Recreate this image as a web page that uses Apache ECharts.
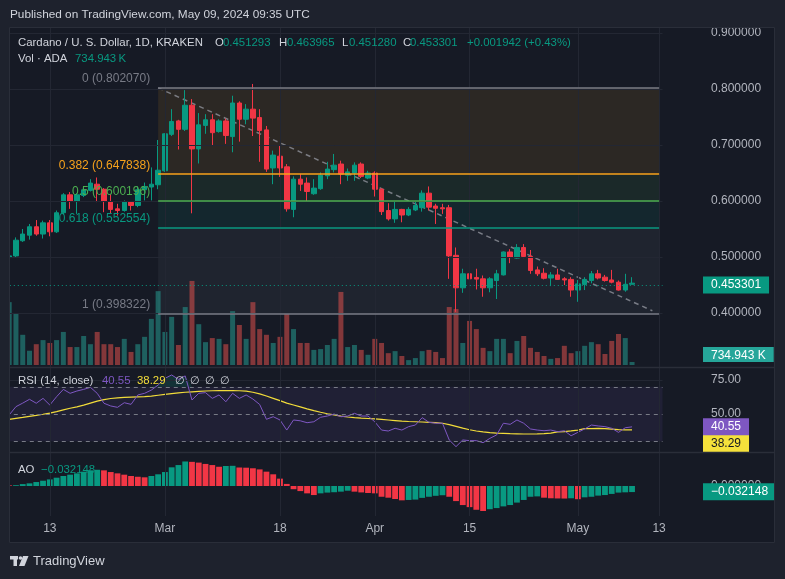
<!DOCTYPE html>
<html>
<head>
<meta charset="utf-8">
<script src="https://cdn.jsdelivr.net/npm/echarts@6/dist/echarts.min.js"></script>
<style>
html,body{margin:0;padding:0;background:#1e222d;overflow:hidden;}
#chart{width:785px;height:579px;}
</style>
</head>
<body>
<div id="chart"></div>
<script>
// ---------- DATA ----------
const dates = [
'02-07','02-08','02-09','02-10','02-11','02-12','02-13','02-14','02-15','02-16','02-17','02-18','02-19','02-20','02-21','02-22','02-23','02-24','02-25','02-26','02-27','02-28','02-29',
'03-01','03-02','03-03','03-04','03-05','03-06','03-07','03-08','03-09','03-10','03-11','03-12','03-13','03-14','03-15','03-16','03-17','03-18','03-19','03-20','03-21','03-22','03-23','03-24','03-25','03-26','03-27','03-28','03-29','03-30','03-31',
'04-01','04-02','04-03','04-04','04-05','04-06','04-07','04-08','04-09','04-10','04-11','04-12','04-13','04-14','04-15','04-16','04-17','04-18','04-19','04-20','04-21','04-22','04-23','04-24','04-25','04-26','04-27','04-28','04-29','04-30',
'05-01','05-02','05-03','05-04','05-05','05-06','05-07','05-08','05-09','05-10','05-11','05-12','05-13'];

const opens = [
0.499,0.502,0.529,0.539,0.554,0.541,0.561,0.545,0.579,0.611,0.599,0.610,0.619,0.630,0.621,0.599,0.586,0.583,0.598,0.592,0.620,0.625,0.629,
0.654,0.719,0.743,0.728,0.771,0.693,0.735,0.745,0.724,0.743,0.715,0.775,0.746,0.764,0.749,0.727,0.659,0.680,0.661,0.585,0.639,0.632,0.613,0.622,0.645,0.656,0.666,0.646,0.650,0.666,0.641,
0.650,0.621,0.583,0.568,0.585,0.575,0.584,0.588,0.614,0.591,0.588,0.588,0.503,0.445,0.470,0.4635,0.461,0.445,0.458,0.468,0.509,0.498,0.517,0.501,0.477,0.471,0.4625,0.468,0.461,0.460,
0.441,0.451,0.458,0.470,0.464,0.459,0.455,0.441,0.451293];
const highs = [
0.503,0.535,0.550,0.559,0.566,0.565,0.566,0.583,0.614,0.616,0.614,0.625,0.639,0.642,0.623,0.612,0.595,0.601,0.600,0.626,0.633,0.660,0.709,
0.721,0.764,0.745,0.798,0.782,0.757,0.755,0.755,0.746,0.747,0.788,0.778,0.773,0.809,0.764,0.734,0.690,0.699,0.666,0.644,0.648,0.642,0.639,0.651,0.670,0.684,0.672,0.658,0.669,0.669,0.654,
0.653,0.623,0.596,0.599,0.586,0.589,0.599,0.619,0.626,0.595,0.595,0.593,0.517,0.479,0.496,0.479,0.467,0.464,0.477,0.510,0.514,0.523,0.523,0.5125,0.483,0.480,0.473,0.479,0.464,0.464,
0.459,0.464,0.475,0.477,0.468,0.477,0.458,0.470,0.463965];
const lows = [
0.496,0.500,0.527,0.531,0.538,0.533,0.537,0.543,0.576,0.586,0.577,0.607,0.617,0.598,0.580,0.577,0.574,0.581,0.583,0.589,0.601,0.601,0.621,
0.652,0.716,0.692,0.725,0.578,0.667,0.720,0.699,0.722,0.702,0.687,0.706,0.737,0.716,0.670,0.652,0.630,0.643,0.581,0.571,0.618,0.600,0.611,0.620,0.639,0.651,0.630,0.636,0.636,0.641,0.639,
0.608,0.575,0.565,0.561,0.562,0.573,0.582,0.581,0.583,0.559,0.577,0.461,0.402,0.436,0.442,0.442,0.429,0.437,0.425,0.467,0.489,0.497,0.498,0.470,0.466,0.460,0.448,0.459,0.450,0.429,
0.420,0.441,0.453,0.460,0.456,0.453,0.440,0.438,0.451280];
const closes = [
0.502,0.530,0.541,0.554,0.541,0.561,0.545,0.579,0.611,0.600,0.611,0.620,0.632,0.621,0.599,0.585,0.583,0.599,0.592,0.620,0.626,0.630,0.655,
0.720,0.742,0.728,0.771,0.693,0.736,0.745,0.722,0.743,0.717,0.775,0.746,0.764,0.748,0.726,0.657,0.682,0.659,0.586,0.639,0.630,0.617,0.623,0.646,0.657,0.664,0.648,0.652,0.664,0.644,0.650,
0.621,0.581,0.568,0.585,0.575,0.585,0.592,0.614,0.589,0.587,0.586,0.502,0.445,0.470,0.461,0.4605,0.445,0.461,0.470,0.509,0.499,0.517,0.501,0.476,0.470,0.462,0.468,0.460,0.459,0.441,
0.452,0.460,0.470,0.4625,0.458,0.455,0.441,0.4513,0.453301];
// volume, millions of ADA
const volumes = [
15.4,12.5,7.4,3.5,5.1,6.1,5.4,6.1,8.1,4.4,4.4,7.1,5.1,8.1,5.1,5.1,4.4,6.4,3.2,5.1,6.9,11.3,18.1,
8.1,11.8,4.9,14.2,20.6,10.0,5.6,6.6,6.4,5.1,13.2,9.8,6.4,15.4,8.8,7.4,5.4,6.9,12.7,8.8,5.4,5.4,3.7,3.9,4.9,6.4,17.9,4.4,4.9,3.7,2.5,
6.4,5.4,2.9,3.4,2.2,1.2,1.7,3.4,3.7,3.2,1.7,14.2,13.7,5.4,10.8,8.8,4.2,3.4,6.4,6.4,2.9,5.9,7.1,4.2,3.2,2.2,1.5,1.7,4.7,2.9,
3.4,4.7,5.6,5.1,2.7,5.9,7.6,6.6,0.734943];
const rsi = [
49.3,55.4,58.0,60.8,57.9,61.5,56.6,62.7,68.1,65.2,66.9,68.1,69.6,65.2,57.9,55.9,54.9,58.3,57.1,64.0,65.2,67.6,71.3,
76.2,78.7,75.5,78.0,60.3,65.2,65.7,61.5,64.0,59.0,65.2,61.5,64.0,61.0,57.0,46.1,48.0,45.6,38.2,45.6,45.0,43.6,44.3,47.6,48.5,50.0,48.0,48.5,50.5,48.5,48.5,
44.3,38.2,37.5,39.5,38.2,40.7,41.9,47.3,43.9,43.2,43.2,30.9,26.0,30.9,30.4,30.4,28.9,32.1,34.6,43.2,42.4,45.6,43.2,39.0,38.2,37.7,38.2,37.0,37.7,34.0,
36.5,39.0,41.9,41.2,40.7,39.5,36.5,39.9,40.55];
const rsiMA = [
46.1,46.8,47.5,48.3,49.0,49.8,50.7,51.8,53.0,54.2,55.3,56.5,58.0,59.5,60.6,61.4,61.9,62.2,62.4,62.6,62.8,63.2,63.8,
64.4,65.0,65.5,66.0,66.3,66.6,66.9,67.1,67.2,67.2,67.2,67.1,66.8,66.0,64.8,63.2,61.5,59.8,58.0,56.6,55.2,53.8,52.5,51.3,50.2,49.3,48.5,47.8,47.3,46.9,46.7,
46.4,46.0,45.6,45.2,44.8,44.5,44.3,44.1,43.9,43.6,43.2,42.2,40.9,39.6,38.4,37.5,36.8,36.3,35.9,35.7,35.5,35.4,35.3,35.3,35.4,35.6,36.0,36.8,37.1,37.6,
38.2,39.2,39.3,39.5,39.3,38.9,38.5,38.3,38.29];
const ao = [
0.003,0.004,0.010,0.014,0.021,0.028,0.035,0.044,0.053,0.060,0.067,0.076,0.083,0.086,0.083,0.074,0.067,0.060,0.053,0.049,0.046,0.053,0.062,
0.074,0.099,0.111,0.130,0.128,0.124,0.117,0.111,0.102,0.106,0.107,0.098,0.097,0.094,0.088,0.076,0.062,0.039,0.011,-0.017,-0.027,-0.039,-0.048,-0.039,-0.035,-0.033,-0.030,-0.025,-0.030,-0.034,-0.037,
-0.039,-0.057,-0.062,-0.069,-0.076,-0.074,-0.072,-0.063,-0.057,-0.052,-0.049,-0.057,-0.080,-0.101,-0.112,-0.126,-0.1325,-0.123,-0.117,-0.108,-0.101,-0.088,-0.074,-0.057,-0.055,-0.062,-0.065,-0.066,-0.0665,-0.065,
-0.070,-0.060,-0.057,-0.051,-0.048,-0.042,-0.035,-0.0335,-0.032148];

const fibLevels = ['0','0.382','0.5','0.618','1'];
const fibPrices = [0.802070,0.647838,0.600196,0.552554,0.398322];
const fibColors = ['#787b86','#f7a21b','#4caf50','#089981','#787b86'];
const fibStart = '02-29', fibEnd = '05-13';
const trendLine = [['02-29',0.802],['05-12',0.404]];
const tickDates = ['02-13','03-01','03-18','04-01','04-15','05-01','05-13'];
const tickLabels = ['13','Mar','18','Apr','15','May','13'];
const priceTicks = [0.4,0.5,0.6,0.7,0.8,0.9];
const rsiUpper = 70, rsiMid = 50, rsiLower = 30;

// ---------- CHART ----------
const FONT = '"Liberation Sans", Arial, sans-serif';
const UP = '#089981', DOWN = '#f23645';
const TXT = '#d1d4dc', AX = '#b2b5be', GRID = '#232733', OUT = '#1e222d';
const HIDE = 'rgba(0,0,0,0)';
const N = closes.length, L = N - 1;
const XL = 5.8, XW = 656.7;

const candleData = opens.map((o,i)=>[o, closes[i], lows[i], highs[i]]);
const volData = volumes.map((v,i)=>({value:v, itemStyle:{color: closes[i]>=opens[i] ? 'rgba(38,166,154,0.5)' : 'rgba(239,83,80,0.5)'}}));
const aoData = ao.map((v,i)=>({value:v, itemStyle:{color: (i>0 && v>ao[i-1]) ? UP : DOWN}}));
const obBase = rsi.map(()=>rsiUpper);
const obOver = rsi.map(v=>Math.max(0, v - rsiUpper));

const boxLabel = (txt, bg, fg, va) => ({
  show:true, position:'end', distance:40.5, formatter: txt,
  backgroundColor: bg, color: fg || '#ffffff', padding:[3,8,2,8],
  fontSize:12, fontFamily: FONT, verticalAlign: va || 'middle'
});

const fibBands = [];
for (let k=0;k<fibPrices.length-1;k++){
  const c = echarts.color.modifyAlpha(fibColors[k+1], 0.1);
  fibBands.push([{coord:[fibStart, fibPrices[k]], itemStyle:{color:c}}, {coord:[fibEnd, fibPrices[k+1]]}]);
}
const fibLines = fibPrices.map((p,k)=>[
  {coord:[fibStart,p], lineStyle:{color:fibColors[k], width:1.5, type:'solid'},
   label:{show:true, position:'start', distance:8, verticalAlign:'bottom', padding:[0,0,3,0],
          color:fibColors[k], fontSize:12, fontFamily:FONT, formatter: fibLevels[k]+' ('+p.toFixed(6)+')'}},
  {coord:[fibEnd,p]}
]);

const gridDef = (top,height)=>({left:XL, width:XW, top:top, height:height, outerBoundsMode:'none', containLabel:false});

const xAxes = [0,1,2,3,4].map(i=>({
  type:'category', gridIndex:i, data:dates, boundaryGap:true, show: i===4,
  axisLine:{show:false}, axisTick:{show:false}, splitLine:{show:false},
  axisLabel: i===4 ? {
    show:true, margin:7, color:AX, fontSize:12, fontFamily:FONT,
    interval:(idx,val)=>tickDates.indexOf(val)>=0,
    formatter:(val)=>{const j=tickDates.indexOf(val); return j>=0?tickLabels[j]:'';}
  } : {show:false}
}));

const yAxes = [
  {type:'value', gridIndex:0, position:'right', min:0.3, max:0.9, interval:0.1,
   axisLine:{show:false}, axisTick:{show:false}, splitLine:{show:false},
   axisLabel:{margin:48.5, color:AX, fontSize:12, fontFamily:FONT, formatter:v=> v<0.35 ? '' : v.toFixed(6)}},
  {type:'value', gridIndex:1, min:0, max:24.5, show:false},
  {type:'value', gridIndex:2, position:'right', min:0, max:100, interval:25,
   axisLine:{show:false}, axisTick:{show:false}, splitLine:{show:false},
   axisLabel:{margin:48.5, color:AX, fontSize:12, fontFamily:FONT, formatter:v=> (v===50||v===75) ? v.toFixed(2) : ''}},
  {type:'value', gridIndex:3, position:'right', min:-0.15, max:0.15, interval:0.15,
   axisLine:{show:false}, axisTick:{show:false}, splitLine:{show:false},
   axisLabel:{margin:48.5, color:AX, fontSize:12, fontFamily:FONT, formatter:v=> Math.abs(v)<1e-9 ? '0.000000' : ''}},
  {type:'value', gridIndex:4, min:0, max:1, show:false}
];

const series = [
  {type:'line', xAxisIndex:4, yAxisIndex:4, data:[], z:0, silent:true,
   markLine:{silent:true, symbol:['none','none'], label:{show:false}, animation:false,
     lineStyle:{color:GRID, type:'solid', width:1}, data: tickDates.map(d=>({xAxis:d}))}},
  {type:'line', xAxisIndex:0, yAxisIndex:0, data:[], z:0, silent:true,
   markLine:{silent:true, symbol:['none','none'], label:{show:false}, animation:false,
     lineStyle:{color:GRID, type:'solid', width:1}, data: priceTicks.map(v=>({yAxis:v}))}},
  {type:'bar', name:'Vol', xAxisIndex:1, yAxisIndex:1, data:volData, barWidth:5, z:1,
   markLine:{silent:true, symbol:['none','none'], animation:false,
     lineStyle:{color:HIDE, width:0},
     data:[{yAxis:volumes[L], label: Object.assign(boxLabel('734.943 K', '#26a69a', '#ffffff', 'bottom'), {padding:[3,8,0,8]})}]}},
  {type:'line', xAxisIndex:0, yAxisIndex:0, data:[], z:2, silent:true,
   markArea:{silent:true, data: fibBands},
   markLine:{silent:true, symbol:['none','none'], animation:false, data: fibLines}},
  {type:'line', xAxisIndex:0, yAxisIndex:0, data:trendLine, symbol:'none', z:3, silent:true,
   lineStyle:{color:'rgba(149,152,161,0.75)', width:1.5, type:[5,4]}},
  {type:'candlestick', xAxisIndex:0, yAxisIndex:0, data:candleData, barWidth:5, z:4,
   itemStyle:{color:UP, color0:DOWN, borderColor:UP, borderColor0:DOWN, borderWidth:1},
   markLine:{silent:true, symbol:['none','none'], animation:false,
     lineStyle:{color:UP, type:[1,3], width:1},
     data:[{yAxis:closes[L], label: boxLabel(closes[L].toFixed(6), UP)}]}},
  {type:'line', xAxisIndex:2, yAxisIndex:2, data:[], z:1, silent:true,
   markArea:{silent:true, itemStyle:{color:'rgba(126,87,194,0.1)'}, data:[[{yAxis:rsiLower},{yAxis:rsiUpper}]]},
   markLine:{silent:true, symbol:['none','none'], label:{show:false}, animation:false,
     data:[
       {yAxis:75, lineStyle:{color:GRID, type:'solid', width:1}},
       {yAxis:rsiUpper, lineStyle:{color:'#787b86', type:[4,4], width:1}},
       {yAxis:rsiMid, lineStyle:{color:'#787b86', type:[4,4], width:1}},
       {yAxis:rsiLower, lineStyle:{color:'#787b86', type:[4,4], width:1}}
     ]}},
  // overbought fill (RSI above upper band)
  {type:'line', xAxisIndex:2, yAxisIndex:2, data:obBase, stack:'ob', symbol:'none', z:2, silent:true,
   lineStyle:{width:0, color:HIDE}},
  {type:'line', xAxisIndex:2, yAxisIndex:2, data:obOver, stack:'ob', symbol:'none', z:2, silent:true,
   lineStyle:{width:0, color:HIDE}, areaStyle:{color:'rgba(8,153,129,0.28)'}},
  {type:'line', xAxisIndex:2, yAxisIndex:2, data:rsiMA, symbol:'none', z:3,
   lineStyle:{color:'#f2dc3a', width:1.2},
   markLine:{silent:true, symbol:['none','none'], animation:false, lineStyle:{color:HIDE, width:0},
     data:[{yAxis:rsiMA[L], label:Object.assign(boxLabel(rsiMA[L].toFixed(2), '#f5e13b', '#131722', 'top'), {padding:[8,8,2,8]})}]}},
  {type:'line', xAxisIndex:2, yAxisIndex:2, data:rsi, symbol:'none', z:4,
   lineStyle:{color:'#7e57c2', width:1},
   markLine:{silent:true, symbol:['none','none'], animation:false, lineStyle:{color:HIDE, width:0},
     data:[{yAxis:rsi[L], label: boxLabel(rsi[L].toFixed(2), '#7e57c2')}]}},
  {type:'bar', xAxisIndex:3, yAxisIndex:3, data:aoData, barWidth:'86%', z:3,
   markLine:{silent:true, symbol:['none','none'], animation:false, lineStyle:{color:HIDE, width:0},
     data:[{yAxis:ao[L], label: boxLabel('\u2212'+Math.abs(ao[L]).toFixed(6), UP)}]}}
];

const txt = (x,y,t,color,size)=>({type:'text', x:x, y:y, z:120, silent:true,
  style:{text:t, fill:color, font:(size||12)+'px '+FONT, align:'left', verticalAlign:'middle'}});

const LG = 11.4;
const graphic = [
  {type:'rect', z:100, silent:true, shape:{x:0,y:0,width:785,height:27}, style:{fill:OUT}},
  {type:'rect', z:100, silent:true, shape:{x:0,y:543,width:785,height:36}, style:{fill:OUT}},
  {type:'rect', z:100, silent:true, shape:{x:0,y:0,width:9,height:579}, style:{fill:OUT}},
  {type:'rect', z:100, silent:true, shape:{x:775,y:0,width:10,height:579}, style:{fill:OUT}},
  {type:'rect', z:101, silent:true, shape:{x:9.5,y:27.5,width:765,height:515}, style:{fill:'none', stroke:'#2a2e39', lineWidth:1}},
  {type:'line', z:101, silent:true, shape:{x1:9.5,y1:367.5,x2:775,y2:367.5}, style:{stroke:'#2a2e39', lineWidth:1.5}},
  {type:'line', z:101, silent:true, shape:{x1:9.5,y1:452.5,x2:775,y2:452.5}, style:{stroke:'#2a2e39', lineWidth:1.5}},
  txt(10,15,'Published on TradingView.com, May 09, 2024 09:35 UTC', TXT, 11.8),
  txt(18,43,'Cardano / U. S. Dollar, 1D, KRAKEN', TXT, LG),
  txt(215,43,'O', TXT, LG), txt(223,43,opens[L].toFixed(6), UP, LG),
  txt(279,43,'H', TXT, LG), txt(287,43,highs[L].toFixed(6), UP, LG),
  txt(342,43,'L', TXT, LG), txt(349,43,lows[L].toFixed(6), UP, LG),
  txt(403,43,'C', TXT, LG), txt(410,43,closes[L].toFixed(6), UP, LG),
  txt(467,43,'+0.001942 (+0.43%)', UP, LG),
  txt(18,59,'Vol \u00b7 ADA', TXT, LG), txt(75,59,'734.943\u2009K', UP, LG),
  txt(18,381,'RSI (14, close)', TXT, LG), txt(102,381,rsi[L].toFixed(2), '#7e57c2', LG),
  txt(137,381,rsiMA[L].toFixed(2), '#f2dc3a', LG),
  txt(175,381,'\u2205', TXT, LG), txt(190,381,'\u2205', TXT, LG), txt(205,381,'\u2205', TXT, LG), txt(220,381,'\u2205', TXT, LG),
  txt(18,470,'AO', TXT, LG), txt(41,470,'\u2212'+Math.abs(ao[L]).toFixed(6), UP, LG),
  {type:'rect', z:120, silent:true, shape:{x:10,y:556,width:8,height:3.5}, style:{fill:TXT}},
  {type:'rect', z:120, silent:true, shape:{x:13.5,y:556,width:3.5,height:10}, style:{fill:TXT}},
  {type:'circle', z:120, silent:true, shape:{cx:20.5,cy:558,r:1.8}, style:{fill:TXT}},
  {type:'polygon', z:120, silent:true, shape:{points:[[23,556],[28.5,556],[24.5,566],[19,566]]}, style:{fill:TXT}},
  txt(33,561,'TradingView', TXT, 13)
];

const chart = echarts.init(document.getElementById('chart'), null, {width:785, height:579});
chart.setOption({
  backgroundColor:'#161a25',
  animation:false,
  textStyle:{fontFamily:FONT},
  grid:[gridDef(33,336), gridDef(265,100), gridDef(346,136), gridDef(457.7,56.6), gridDef(28,488)],
  xAxis:xAxes,
  yAxis:yAxes,
  series:series,
  graphic:graphic
});
</script>
</body>
</html>
